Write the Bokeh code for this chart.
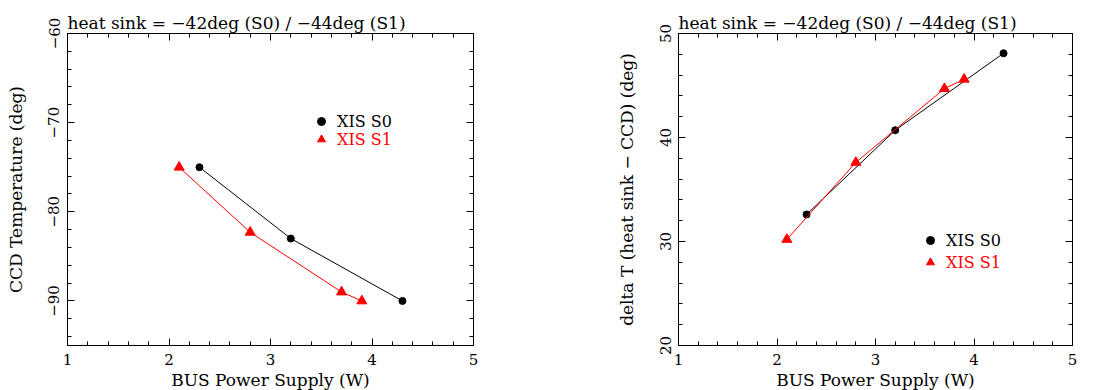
from bokeh.plotting import figure
from bokeh.layouts import row
from bokeh.models import (Range1d, LinearAxis, SingleIntervalTicker, Legend, LegendItem, Title)
from bokeh.embed import file_html
from bokeh.resources import INLINE

# ---- data ----
power_s0 = [2.3, 3.2, 4.3]
ccd_s0 = [-75.0, -83.0, -90.0]
dT_s0 = [32.6, 40.7, 48.1]

power_s1 = [2.1, 2.8, 3.7, 3.9]
ccd_s1 = [-75.0, -82.3, -89.0, -90.0]
dT_s1 = [30.2, 37.6, 44.7, 45.6]

title_text = "heat sink = \u221242deg (S0) / \u221244deg (S1)"
x_label = "BUS Power Supply (W)"
y_label_left = "CCD Temperature (deg)"
y_label_right = "delta T (heat sink \u2212 CCD) (deg)"
series_names = ["XIS S0", "XIS S1"]
x_ticks = [1, 2, 3, 4, 5]
y_ticks_left = [-90, -80, -70, -60]
y_ticks_right = [20, 30, 40, 50]

FONT = "DejaVu Serif"
RED = "#ff0000"


def label_map(ticks):
    return {t: str(t).replace("-", "\u2212") for t in ticks}


def style_axis(ax, label_size="15px"):
    ax.major_tick_in = 7
    ax.major_tick_out = 0
    ax.minor_tick_in = 4
    ax.minor_tick_out = 0
    ax.axis_line_color = "black"
    ax.major_tick_line_color = "black"
    ax.minor_tick_line_color = "black"
    ax.major_label_text_font = FONT
    ax.major_label_text_font_size = label_size
    ax.major_label_text_color = "black"
    ax.axis_label_text_font = FONT
    ax.axis_label_text_font_size = "17px"
    ax.axis_label_text_font_style = "normal"
    ax.axis_label_text_color = "black"


def make_plot(ys0, ys1, yr, yticks, ylabel, frame_w, bl, br, leg_pos, leg_spacing):
    ttl = Title(text=title_text, text_font=FONT, text_font_size="17px",
                text_font_style="normal", text_color="black", align="left",
                standoff=2)
    p = figure(frame_width=frame_w, frame_height=312, output_backend="svg",
               toolbar_location=None, x_range=Range1d(1, 5), y_range=Range1d(*yr),
               min_border_left=bl, min_border_right=br, min_border_top=33,
               min_border_bottom=4, background_fill_color="white",
               border_fill_color="white", title=ttl)
    p.xgrid.visible = False
    p.ygrid.visible = False
    p.outline_line_color = "black"
    p.outline_line_width = 1

    p.xaxis.ticker = SingleIntervalTicker(interval=1, num_minor_ticks=5)
    p.yaxis.ticker = SingleIntervalTicker(interval=10, num_minor_ticks=5)
    p.xaxis.major_label_overrides = label_map(x_ticks)
    p.yaxis.major_label_overrides = label_map(yticks)
    p.xaxis.axis_label = x_label
    p.yaxis.axis_label = ylabel
    for ax in p.xaxis + p.yaxis:
        style_axis(ax)
    p.xaxis.major_label_standoff = 8
    p.xaxis.axis_label_standoff = 2
    p.yaxis.major_label_orientation = "vertical"
    p.yaxis.major_label_standoff = 8
    p.yaxis.axis_label_standoff = 20

    top = LinearAxis(ticker=SingleIntervalTicker(interval=1, num_minor_ticks=5))
    right = LinearAxis(ticker=SingleIntervalTicker(interval=10, num_minor_ticks=5))
    for ax in (top, right):
        style_axis(ax, label_size="1px")
        ax.major_label_text_color = None
        ax.major_label_standoff = 0
    p.add_layout(top, "above")
    p.add_layout(right, "right")

    p.line(power_s0, ys0, line_color="black", line_width=1)
    r0 = p.scatter(power_s0, ys0, marker="circle", size=7, fill_color="black",
                   line_color="black")
    p.line(power_s1, ys1, line_color=RED, line_width=1)
    r1 = p.scatter(power_s1, ys1, marker="triangle", size=10, fill_color=RED,
                   line_color=RED)

    lx, ly = leg_pos
    for i, (name, rr, col) in enumerate([(series_names[0], r0, "black"),
                                         (series_names[1], r1, RED)]):
        leg = Legend(items=[LegendItem(label=name, renderers=[rr])],
                     location=(lx, ly - i * leg_spacing),
                     label_text_color=col, label_text_font=FONT,
                     label_text_font_size="16px", background_fill_alpha=0,
                     border_line_alpha=0, padding=0, margin=0, spacing=0,
                     glyph_width=20, glyph_height=20, label_height=18,
                     label_standoff=6)
        p.add_layout(leg)
    return p


p1 = make_plot(ccd_s0, ccd_s1, (-95, -60), y_ticks_left, y_label_left,
               406, 67, 100, (244, 214), 18)
p2 = make_plot(dT_s0, dT_s1, (20, 50), y_ticks_right, y_label_right,
               394, 105, 10, (242, 95), 22)

layout = row(p1, p2)
open("out.html", "w").write(file_html(layout, INLINE))
